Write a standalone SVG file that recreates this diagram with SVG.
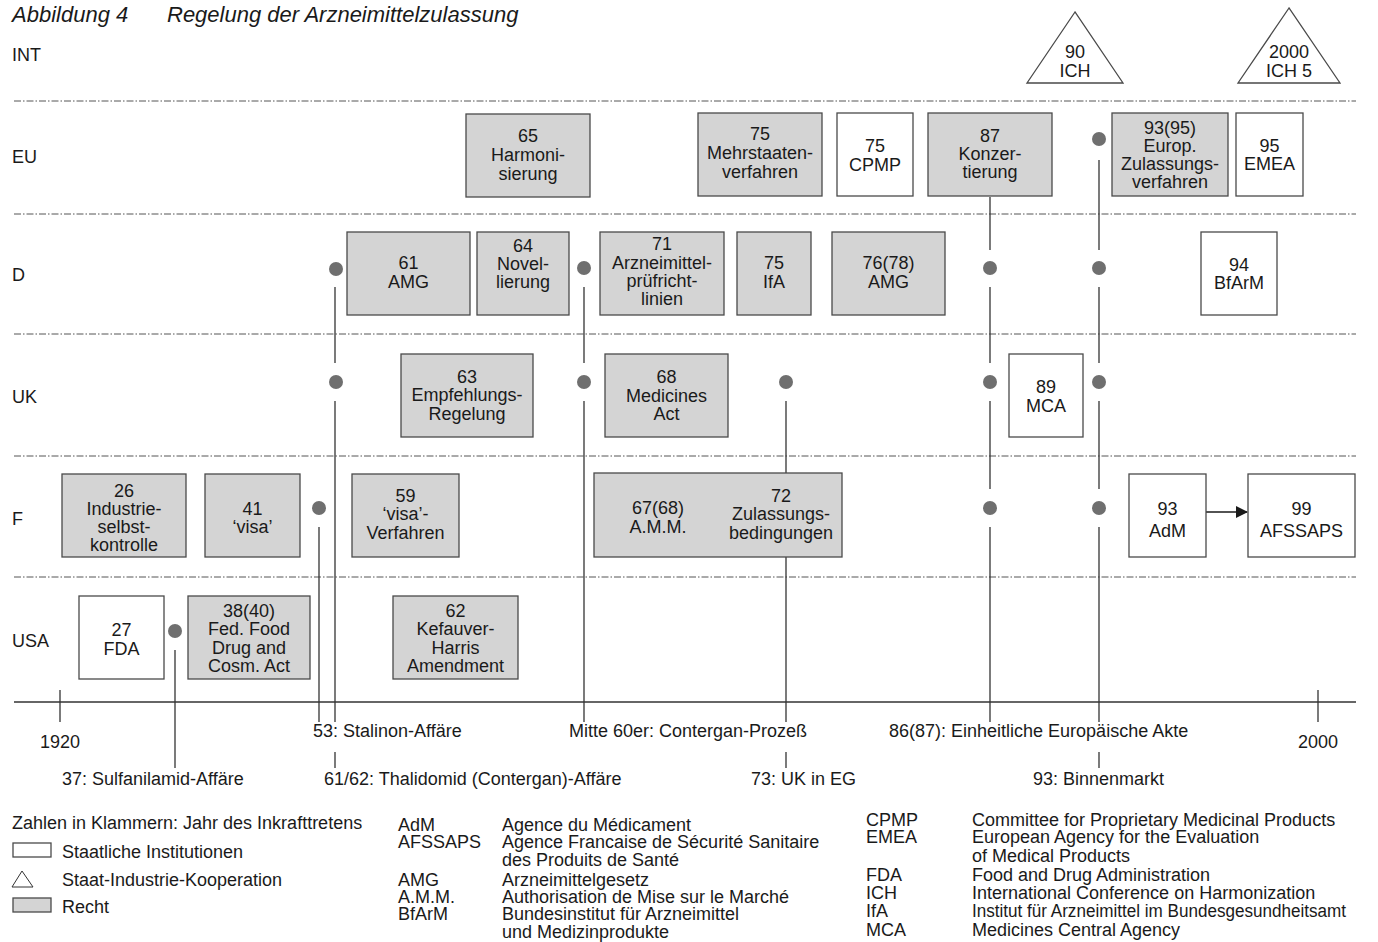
<svg xmlns="http://www.w3.org/2000/svg" width="1378" height="942" viewBox="0 0 1378 942">
<defs>
<style>
.t{font-family:"Liberation Sans",Arial,Helvetica,sans-serif;font-size:18px;fill:#1a1a1a}
.s{font-family:"Liberation Sans",Arial,Helvetica,sans-serif;font-size:18px;fill:#1a1a1a}
.c{text-anchor:middle}
.ti{font-family:"Liberation Sans",Arial,Helvetica,sans-serif;font-size:22px;font-style:italic;fill:#1a1a1a}
.law{fill:#d4d4d4;stroke:#4a4a4a;stroke-width:1.3}
.inst{fill:#ffffff;stroke:#4a4a4a;stroke-width:1.3}
.sep{stroke:#555;stroke-width:1;stroke-dasharray:7 2 1.5 2;fill:none}
.ln{stroke:#333;stroke-width:1.3;fill:none}
.dot{fill:#6f6f6f}
</style>
<marker id="arr" markerWidth="12" markerHeight="12" refX="11" refY="6" orient="auto" markerUnits="userSpaceOnUse">
<path d="M0,0 L12,6 L0,12 z" fill="#1a1a1a"/>
</marker>
</defs>
<rect width="1378" height="942" fill="#ffffff"/>

<g id="title">
<text class="ti" x="12" y="22">Abbildung 4</text>
<text class="ti" x="167" y="22">Regelung der Arzneimittelzulassung</text>
</g>

<g id="rows">
<text class="t" x="12" y="61">INT</text>
<text class="t" x="12" y="163">EU</text>
<text class="t" x="12" y="281">D</text>
<text class="t" x="12" y="403">UK</text>
<text class="t" x="12" y="525">F</text>
<text class="t" x="12" y="647">USA</text>
<line class="sep" x1="14" y1="101" x2="1356" y2="101"/>
<line class="sep" x1="14" y1="214" x2="1356" y2="214"/>
<line class="sep" x1="14" y1="334" x2="1356" y2="334"/>
<line class="sep" x1="14" y1="456" x2="1356" y2="456"/>
<line class="sep" x1="14" y1="577" x2="1356" y2="577"/>
</g>

<g id="axis">
<line class="ln" x1="14" y1="702" x2="1356" y2="702"/>
<line class="ln" x1="60" y1="690" x2="60" y2="722"/>
<line class="ln" x1="1318" y1="690" x2="1318" y2="722"/>
<text class="t" x="40" y="748">1920</text>
<text class="t" x="1298" y="748">2000</text>
</g>

<g id="connectors">
<line class="ln" x1="175" y1="650" x2="175" y2="768"/>
<line class="ln" x1="319" y1="527" x2="319" y2="722"/>
<line class="ln" x1="335" y1="287" x2="335" y2="363"/>
<line class="ln" x1="335" y1="401" x2="335" y2="722"/>
<line class="ln" x1="335" y1="752" x2="335" y2="768"/>
<line class="ln" x1="584" y1="287" x2="584" y2="363"/>
<line class="ln" x1="584" y1="401" x2="584" y2="722"/>
<line class="ln" x1="786" y1="401" x2="786" y2="722"/>
<line class="ln" x1="786" y1="752" x2="786" y2="768"/>
<line class="ln" x1="990" y1="197" x2="990" y2="250"/>
<line class="ln" x1="990" y1="287" x2="990" y2="363"/>
<line class="ln" x1="990" y1="401" x2="990" y2="489"/>
<line class="ln" x1="990" y1="527" x2="990" y2="722"/>
<line class="ln" x1="1099" y1="160" x2="1099" y2="250"/>
<line class="ln" x1="1099" y1="287" x2="1099" y2="363"/>
<line class="ln" x1="1099" y1="401" x2="1099" y2="489"/>
<line class="ln" x1="1099" y1="527" x2="1099" y2="722"/>
<line class="ln" x1="1099" y1="752" x2="1099" y2="768"/>
<line x1="1206" y1="512" x2="1247" y2="512" stroke="#1a1a1a" stroke-width="1.5" marker-end="url(#arr)"/>
<circle class="dot" cx="175" cy="631" r="7"/>
<circle class="dot" cx="319" cy="508" r="7"/>
<circle class="dot" cx="336" cy="269" r="7"/>
<circle class="dot" cx="336" cy="382" r="7"/>
<circle class="dot" cx="584" cy="268" r="7"/>
<circle class="dot" cx="584" cy="382" r="7"/>
<circle class="dot" cx="786" cy="382" r="7"/>
<circle class="dot" cx="990" cy="268" r="7"/>
<circle class="dot" cx="990" cy="382" r="7"/>
<circle class="dot" cx="990" cy="508" r="7"/>
<circle class="dot" cx="1099" cy="139" r="7"/>
<circle class="dot" cx="1099" cy="268" r="7"/>
<circle class="dot" cx="1099" cy="382" r="7"/>
<circle class="dot" cx="1099" cy="508" r="7"/>
</g>

<g id="events">
<text class="t" x="313" y="737">53: Stalinon-Affäre</text>
<text class="t" x="569" y="737">Mitte 60er: Contergan-Prozeß</text>
<text class="t" x="889" y="737">86(87): Einheitliche Europäische Akte</text>
<text class="t" x="62" y="785">37: Sulfanilamid-Affäre</text>
<text class="t" x="324" y="785">61/62: Thalidomid (Contergan)-Affäre</text>
<text class="t" x="751" y="785">73: UK in EG</text>
<text class="t" x="1033" y="785">93: Binnenmarkt</text>
</g>

<g id="ich90">
<polygon class="inst" points="1075,12 1027,83 1123,83"/>
<text class="t c" x="1075" y="58">90</text>
<text class="t c" x="1075" y="77">ICH</text>
</g>
<g id="ich2000">
<polygon class="inst" points="1289,8 1238,83 1340,83"/>
<text class="t c" x="1289" y="58">2000</text>
<text class="t c" x="1289" y="77">ICH 5</text>
</g>

<g id="eu65">
<rect class="law" x="466" y="114" width="124" height="83"/>
<text class="t c" x="528" y="142">65</text>
<text class="t c" x="528" y="161">Harmoni-</text>
<text class="t c" x="528" y="180">sierung</text>
</g>
<g id="eu75m">
<rect class="law" x="698" y="113" width="124" height="83"/>
<text class="t c" x="760" y="140">75</text>
<text class="t c" x="760" y="159">Mehrstaaten-</text>
<text class="t c" x="760" y="178">verfahren</text>
</g>
<g id="eu75c">
<rect class="inst" x="837" y="113" width="76" height="83"/>
<text class="t c" x="875" y="152">75</text>
<text class="t c" x="875" y="171">CPMP</text>
</g>
<g id="eu87">
<rect class="law" x="928" y="113" width="124" height="83"/>
<text class="t c" x="990" y="142">87</text>
<text class="t c" x="990" y="160">Konzer-</text>
<text class="t c" x="990" y="178">tierung</text>
</g>
<g id="eu93">
<rect class="law" x="1112" y="113" width="116" height="83"/>
<text class="t c" x="1170" y="134">93(95)</text>
<text class="t c" x="1170" y="152">Europ.</text>
<text class="t c" x="1170" y="170">Zulassungs-</text>
<text class="t c" x="1170" y="188">verfahren</text>
</g>
<g id="eu95">
<rect class="inst" x="1236" y="113" width="67" height="83"/>
<text class="t c" x="1269.5" y="152">95</text>
<text class="t c" x="1269.5" y="170">EMEA</text>
</g>

<g id="d61">
<rect class="law" x="347" y="232" width="123" height="83"/>
<text class="t c" x="408.5" y="269">61</text>
<text class="t c" x="408.5" y="288">AMG</text>
</g>
<g id="d64">
<rect class="law" x="477" y="232" width="92" height="83"/>
<text class="t c" x="523" y="252">64</text>
<text class="t c" x="523" y="270">Novel-</text>
<text class="t c" x="523" y="288">lierung</text>
</g>
<g id="d71">
<rect class="law" x="600" y="232" width="124" height="83"/>
<text class="t c" x="662" y="250">71</text>
<text class="t c" x="662" y="269">Arzneimittel-</text>
<text class="t c" x="662" y="287">prüfricht-</text>
<text class="t c" x="662" y="305">linien</text>
</g>
<g id="d75">
<rect class="law" x="737" y="232" width="74" height="83"/>
<text class="t c" x="774" y="269">75</text>
<text class="t c" x="774" y="288">IfA</text>
</g>
<g id="d76">
<rect class="law" x="832" y="232" width="113" height="83"/>
<text class="t c" x="888.5" y="269">76(78)</text>
<text class="t c" x="888.5" y="288">AMG</text>
</g>
<g id="d94">
<rect class="inst" x="1201" y="232" width="76" height="83"/>
<text class="t c" x="1239" y="271">94</text>
<text class="t c" x="1239" y="289">BfArM</text>
</g>

<g id="uk63">
<rect class="law" x="401" y="354" width="132" height="83"/>
<text class="t c" x="467" y="383">63</text>
<text class="t c" x="467" y="401">Empfehlungs-</text>
<text class="t c" x="467" y="420">Regelung</text>
</g>
<g id="uk68">
<rect class="law" x="605" y="354" width="123" height="83"/>
<text class="t c" x="666.5" y="383">68</text>
<text class="t c" x="666.5" y="402">Medicines</text>
<text class="t c" x="666.5" y="420">Act</text>
</g>
<g id="uk89">
<rect class="inst" x="1009" y="354" width="74" height="83"/>
<text class="t c" x="1046" y="393">89</text>
<text class="t c" x="1046" y="412">MCA</text>
</g>

<g id="f26">
<rect class="law" x="62" y="474" width="124" height="83"/>
<text class="t c" x="124" y="497">26</text>
<text class="t c" x="124" y="515">Industrie-</text>
<text class="t c" x="124" y="533">selbst-</text>
<text class="t c" x="124" y="551">kontrolle</text>
</g>
<g id="f41">
<rect class="law" x="205" y="474" width="95" height="83"/>
<text class="t c" x="252.5" y="515">41</text>
<text class="t c" x="252.5" y="533">‘visa’</text>
</g>
<g id="f59">
<rect class="law" x="352" y="474" width="107" height="83"/>
<text class="t c" x="405.5" y="502">59</text>
<text class="t c" x="405.5" y="520">‘visa’-</text>
<text class="t c" x="405.5" y="539">Verfahren</text>
</g>
<g id="f67">
<rect class="law" x="594" y="473" width="248" height="84"/>
<text class="t c" x="658" y="514">67(68)</text>
<text class="t c" x="658" y="533">A.M.M.</text>
<text class="t c" x="781" y="502">72</text>
<text class="t c" x="781" y="520">Zulassungs-</text>
<text class="t c" x="781" y="539">bedingungen</text>
</g>
<g id="f93">
<rect class="inst" x="1129" y="474" width="77" height="83"/>
<text class="t c" x="1167.5" y="515">93</text>
<text class="t c" x="1167.5" y="537">AdM</text>
</g>
<g id="f99">
<rect class="inst" x="1248" y="474" width="107" height="83"/>
<text class="t c" x="1301.5" y="515">99</text>
<text class="t c" x="1301.5" y="537">AFSSAPS</text>
</g>

<g id="usa27">
<rect class="inst" x="79" y="596" width="85" height="83"/>
<text class="t c" x="121.5" y="636">27</text>
<text class="t c" x="121.5" y="655">FDA</text>
</g>
<g id="usa38">
<rect class="law" x="188" y="596" width="122" height="83"/>
<text class="t c" x="249" y="617">38(40)</text>
<text class="t c" x="249" y="635">Fed. Food</text>
<text class="t c" x="249" y="654">Drug and</text>
<text class="t c" x="249" y="672">Cosm. Act</text>
</g>
<g id="usa62">
<rect class="law" x="393" y="596" width="125" height="83"/>
<text class="t c" x="455.5" y="617">62</text>
<text class="t c" x="455.5" y="635">Kefauver-</text>
<text class="t c" x="455.5" y="654">Harris</text>
<text class="t c" x="455.5" y="672">Amendment</text>
</g>

<g id="legend">
<text class="t" x="12" y="829">Zahlen in Klammern: Jahr des Inkrafttretens</text>
<rect class="inst" x="13" y="843" width="38" height="14" stroke-width="1"/>
<text class="t" x="62" y="858">Staatliche Institutionen</text>
<polygon points="22,871 12,887 33,887" fill="#fff" stroke="#333" stroke-width="1"/>
<text class="t" x="62" y="886">Staat-Industrie-Kooperation</text>
<rect class="law" x="13" y="898" width="38" height="14" stroke-width="1"/>
<text class="t" x="62" y="913">Recht</text>
</g>

<g id="abbrev1">
<text class="s" x="398" y="831">AdM</text>
<text class="s" x="398" y="848">AFSSAPS</text>
<text class="s" x="398" y="886">AMG</text>
<text class="s" x="398" y="903">A.M.M.</text>
<text class="s" x="398" y="920">BfArM</text>
<text class="s" x="502" y="831">Agence du Médicament</text>
<text class="s" x="502" y="848">Agence Francaise de Sécurité Sanitaire</text>
<text class="s" x="502" y="866">des Produits de Santé</text>
<text class="s" x="502" y="886">Arzneimittelgesetz</text>
<text class="s" x="502" y="903">Authorisation de Mise sur le Marché</text>
<text class="s" x="502" y="920">Bundesinstitut für Arzneimittel</text>
<text class="s" x="502" y="938">und Medizinprodukte</text>
</g>
<g id="abbrev2">
<text class="s" x="866" y="826">CPMP</text>
<text class="s" x="866" y="843">EMEA</text>
<text class="s" x="866" y="881">FDA</text>
<text class="s" x="866" y="899">ICH</text>
<text class="s" x="866" y="917">IfA</text>
<text class="s" x="866" y="936">MCA</text>
<text class="s" x="972" y="826">Committee for Proprietary Medicinal Products</text>
<text class="s" x="972" y="843">European Agency for the Evaluation</text>
<text class="s" x="972" y="862">of Medical Products</text>
<text class="s" x="972" y="881">Food and Drug Administration</text>
<text class="s" x="972" y="899">International Conference on Harmonization</text>
<text class="s" x="972" y="917" textLength="374" lengthAdjust="spacingAndGlyphs">Institut für Arzneimittel im Bundesgesundheitsamt</text>
<text class="s" x="972" y="936">Medicines Central Agency</text>
</g>
</svg>
